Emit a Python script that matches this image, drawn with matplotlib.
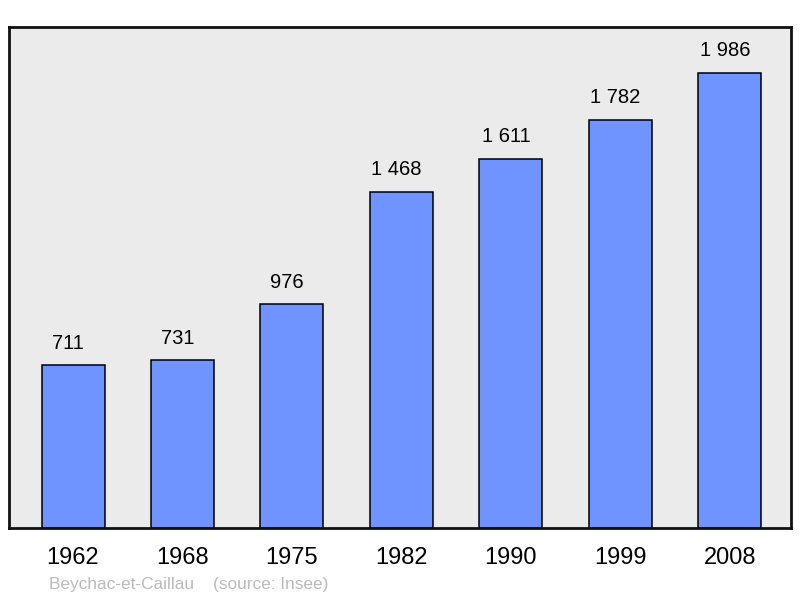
import matplotlib.pyplot as plt

plt.rcParams['font.family'] = ['Liberation Sans', 'DejaVu Sans']

years = ['1962', '1968', '1975', '1982', '1990', '1999', '2008']
population = [711, 731, 976, 1468, 1611, 1782, 1986]
labels = ['711', '731', '976', '1 468', '1 611', '1 782', '1 986']

fig = plt.figure(figsize=(8, 5.98), dpi=100)
ax = fig.add_axes([9 / 800, 1 - 528 / 598, 782 / 800, 501 / 598])
ax.set_facecolor('#ebebeb')

x = range(len(years))
ax.bar(x, population, width=0.576, color='#7094ff', edgecolor='black',
       linewidth=1.1, zorder=2)
for xi, v, lab in zip(x, population, labels):
    ax.annotate(lab, (xi, v), xytext=(-3.5, 9), textcoords='offset points',
                ha='center', va='bottom', fontsize=14.5)

ax.set_xlim(-0.585, 6.56)
ax.set_ylim(0, 2186)
ax.set_yticks([])
ax.set_xticks(list(x))
ax.set_xticklabels(years, fontsize=17)
ax.tick_params(axis='x', length=0, pad=14)
for s in ax.spines.values():
    s.set_linewidth(2)
    s.set_color('#111111')

fig.text(49 / 800, 1 - 584 / 598, 'Beychac-et-Caillau    (source: Insee)',
         fontsize=12.4, color='#bbbbbb', va='center', ha='left')

fig.savefig('out.png', dpi=100)
